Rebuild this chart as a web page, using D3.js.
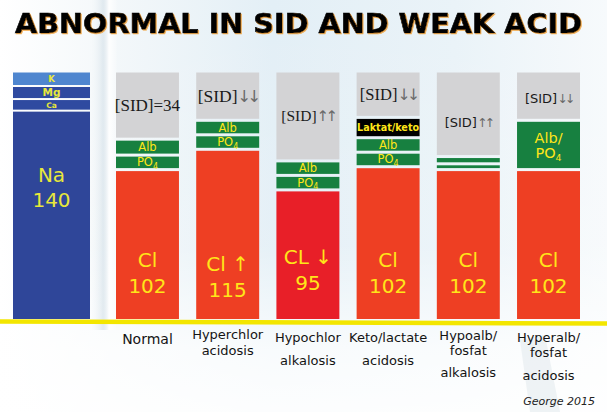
<!DOCTYPE html>
<html><head><meta charset="utf-8">
<script src="https://cdn.jsdelivr.net/npm/d3@7/dist/d3.min.js"></script>
<style>html,body{margin:0;padding:0;background:#fff;overflow:hidden} svg{display:block}</style>
</head><body>
<svg id="chart" width="607" height="412"></svg>
<script>
// ---------- DATA ----------
const title = "ABNORMAL IN SID AND WEAK ACID";
const source = "George 2015";

// cation reference column (bottom -> top)
const cationNames  = ["Na", "Ca", "Mg", "K"];
const cationValues = [143, 8, 9, 10];
const naText = ["Na", "140"];

// anion columns
const categories = ["Normal", "Hyperchlor acidosis", "Hypochlor alkalosis",
                    "Keto/lactate acidosis", "Hypoalb/fosfat alkalosis", "Hyperalb/fosfat acidosis"];
const labelLines = [["Normal"], ["Hyperchlor", "acidosis"], ["Hypochlor", "alkalosis"],
                    ["Keto/lactate", "acidosis"], ["Hypoalb/", "fosfat", "alkalosis"],
                    ["Hyperalb/", "fosfat", "acidosis"]];
const clValues      = [102, 116, 88, 104, 102, 102];
const po4Values     = [10, 10, 10, 10, 4, 0];
const albValues     = [11, 10, 10, 10, 5, 0];
const albPo4Values  = [0, 0, 0, 0, 0, 34];
const lactateValues = [0, 0, 0, 14, 0, 0];
const sidValues     = [47, 34, 62, 32, 59, 34];
const clText  = [["Cl", "102"], ["Cl \u2191", "115"], ["CL \u2193", "95"], ["Cl", "102"], ["Cl", "102"], ["Cl", "102"]];
const sidMain = ["[SID]=34", "[SID]", "[SID]", "[SID]", "[SID]", "[SID]"];
const sidArrow = ["", "\u2193\u2193", "\u2191\u2191", "\u2193\u2193", "\u2191\u2191", "\u2193\u2193"];

// ---------- STYLE / LAYOUT ----------
const W = 607, H = 412;
const C = {
  na: "#2f4699", k: "#4f86cf", cation: "#2f4aa0",
  cl: "#ee3f23", clLow: "#e81f28", green: "#178040", sid: "#d3d3d5",
  lact: "#000000", yellow: "#ffe619", catText: "#e8e83a", text: "#141414"
};
const serif = "'Liberation Serif','Times New Roman',serif";
const sans = "'DejaVu Sans',Verdana,sans-serif";
const sidFont = [
  {fam: serif, size: 17, dy: 0},
  {fam: serif, size: 17.5, dy: 0},
  {fam: serif, size: 15.5, dy: 0},
  {fam: serif, size: 16.5, dy: 0},
  {fam: sans, size: 13, dy: 9},
  {fam: sans, size: 13, dy: 3}
];
const clShift = [0, 4, -3, 0, 0, 0];
const labelBaselines = [[344], [339, 355], [342, 365], [342, 365], [340, 355, 377], [342, 357, 380]];
const labelSize = [14, 13, 13, 13, 13, 13];

const svg = d3.select("#chart");
const defs = svg.append("defs");

// background
const bg = defs.append("linearGradient").attr("id", "bgH").attr("x1", 0).attr("x2", 1).attr("y1", 0).attr("y2", 0);
[[0, "#ffffff"], [0.18, "#f4f8fa"], [0.45, "#e3eff6"], [0.75, "#eaf3f8"], [1, "#f7fafc"]]
  .forEach(([o, c]) => bg.append("stop").attr("offset", o).attr("stop-color", c));
const bgV = defs.append("linearGradient").attr("id", "bgV").attr("x1", 0).attr("x2", 0).attr("y1", 0).attr("y2", 1);
[[0, "#ffffff", 0], [0.6, "#ffffff", 0.1], [0.85, "#ffffff", 0.75], [1, "#ffffff", 0.9]]
  .forEach(([o, c, a]) => bgV.append("stop").attr("offset", o).attr("stop-color", c).attr("stop-opacity", a));
const band = defs.append("linearGradient").attr("id", "band").attr("x1", 0).attr("x2", 1).attr("y1", 0).attr("y2", 0);
[[0, "#ffffff", 0], [0.5, "#cfdde6", 0.55], [0.7, "#ffffff", 0.9], [1, "#ffffff", 0]]
  .forEach(([o, c, a]) => band.append("stop").attr("offset", o).attr("stop-color", c).attr("stop-opacity", a));

svg.append("rect").attr("width", W).attr("height", H).attr("fill", "url(#bgH)");
svg.append("rect").attr("width", W).attr("height", H).attr("fill", "url(#bgV)");
svg.append("path").attr("d", "M88,0 L118,0 L116,330 L92,330 Z").attr("fill", "url(#band)");
svg.append("path").attr("d", "M520,340 L545,335 L560,412 L530,412 Z").attr("fill", "#dfe7ec").attr("opacity", 0.5);

// title
const f = defs.append("filter").attr("id", "tshadow").attr("x", "-5%").attr("y", "-20%").attr("width", "110%").attr("height", "140%");
f.append("feDropShadow").attr("dx", 1).attr("dy", 1).attr("stdDeviation", 0.6).attr("flood-color", "#f09a2a").attr("flood-opacity", 0.8);
svg.append("text").attr("x", 15).attr("y", 33)
  .attr("font-family", sans).attr("font-weight", "bold").attr("font-size", 27)
  .attr("textLength", 567).attr("lengthAdjust", "spacingAndGlyphs")
  .attr("fill", "#050505").attr("stroke", "#050505").attr("stroke-width", 0.6)
  .attr("filter", "url(#tshadow)").text(title);

// scales
const y = d3.scaleLinear().domain([0, 170]).range([319, 72.5]);
const x = d3.scaleBand().domain(categories).range([116, 580]).paddingInner(0.215).paddingOuter(0);
const xc = d3.scaleBand().domain(["cations"]).range([13, 90]);

// ---------- cation column ----------
const GAPC = 2;
let acc = 0;
const catSegs = cationNames.map((n, i) => { const s = {name: n, y0: acc, y1: acc + cationValues[i], i}; acc += cationValues[i]; return s; });
const gC = svg.append("g");
gC.selectAll("rect").data(catSegs).join("rect")
  .attr("x", xc("cations")).attr("width", xc.bandwidth())
  .attr("y", d => y(d.y1))
  .attr("height", d => y(d.y0) - y(d.y1) - (d.i > 0 ? GAPC : 0))
  .attr("fill", d => d.name === "Na" ? C.na : d.name === "K" ? C.k : C.cation);
const catSize = {K: 8.5, Mg: 10.5, Ca: 7.5};
gC.selectAll("text.small").data(catSegs.filter(d => d.name !== "Na")).join("text")
  .attr("class", "small")
  .attr("x", xc("cations") + xc.bandwidth() / 2)
  .attr("y", d => (y(d.y1) + y(d.y0) - GAPC) / 2 + catSize[d.name] * 0.36)
  .attr("text-anchor", "middle").attr("font-family", sans)
  .attr("font-weight", "bold").attr("font-size", d => catSize[d.name]).attr("fill", C.catText)
  .text(d => d.name);
const naTop = y(catSegs[0].y1);
naText.forEach((t, j) => {
  gC.append("text").attr("x", xc("cations") + xc.bandwidth() / 2).attr("y", naTop + 70 + j * 25.5)
    .attr("text-anchor", "middle").attr("font-family", sans)
    .attr("font-size", 20).attr("fill", C.catText).text(t);
});

// ---------- anion columns ----------
const keys = ["cl", "po4", "alb", "albpo4", "lact", "sid"];
const rows = categories.map((c, i) => ({cat: c, i, cl: clValues[i], po4: po4Values[i], alb: albValues[i],
  albpo4: albPo4Values[i], lact: lactateValues[i], sid: sidValues[i]}));
const stacked = d3.stack().keys(keys)(rows);
const GAP = 3;
const segs = [];
stacked.forEach(layer => layer.forEach(d => {
  if (d[1] - d[0] > 0) segs.push({key: layer.key, i: d.data.i, cat: d.data.cat, y0: d[0], y1: d[1]});
}));
const fillOf = s => s.key === "cl" ? (s.i === 2 ? C.clLow : C.cl)
  : s.key === "sid" ? C.sid : s.key === "lact" ? C.lact : C.green;
const rectY = s => y(s.y1);
const rectH = s => y(s.y0) - y(s.y1) - (s.key !== "cl" ? GAP : 0);

const gA = svg.append("g");
gA.selectAll("rect").data(segs).join("rect")
  .attr("x", s => x(s.cat)).attr("width", x.bandwidth())
  .attr("y", rectY).attr("height", rectH).attr("fill", fillOf);

const cx = s => x(s.cat) + x.bandwidth() / 2;
const cy = s => rectY(s) + rectH(s) / 2;

// Cl labels
segs.filter(s => s.key === "cl").forEach(s => {
  clText[s.i].forEach((t, j) => {
    gA.append("text").attr("x", cx(s)).attr("y", y(0) - 52 + j * 26 + clShift[s.i])
      .attr("text-anchor", "middle").attr("font-family", sans).attr("font-size", 20)
      .attr("fill", C.yellow).text(t);
  });
});
// Alb / PO4 labels (only where tall enough)
segs.filter(s => (s.key === "alb" || s.key === "po4") && rectH(s) > 8).forEach(s => {
  const t = gA.append("text").attr("x", cx(s)).attr("y", cy(s) + 4)
    .attr("text-anchor", "middle").attr("font-family", sans).attr("font-size", 11.5).attr("fill", C.yellow);
  if (s.key === "alb") t.text("Alb");
  else { t.append("tspan").text("PO"); t.append("tspan").attr("font-size", 8).attr("dy", 2.5).text("4"); }
});
// Alb/PO4 combined block
segs.filter(s => s.key === "albpo4").forEach(s => {
  gA.append("text").attr("x", cx(s)).attr("y", cy(s) - 2).attr("text-anchor", "middle")
    .attr("font-family", sans).attr("font-size", 14.5).attr("fill", C.yellow).text("Alb/");
  const t = gA.append("text").attr("x", cx(s)).attr("y", cy(s) + 13.5).attr("text-anchor", "middle")
    .attr("font-family", sans).attr("font-size", 14.5).attr("fill", C.yellow);
  t.append("tspan").text("PO"); t.append("tspan").attr("font-size", 9.5).attr("dy", 3).text("4");
});
// Lactate block
segs.filter(s => s.key === "lact").forEach(s => {
  gA.append("text").attr("x", cx(s)).attr("y", cy(s) + 3.8).attr("text-anchor", "middle")
    .attr("font-family", sans).attr("font-weight", "bold").attr("font-size", 10.5)
    .attr("textLength", x.bandwidth() - 1).attr("lengthAdjust", "spacingAndGlyphs")
    .attr("fill", C.yellow).text("Laktat/keto");
});
// SID labels
segs.filter(s => s.key === "sid").forEach(s => {
  const ff = sidFont[s.i];
  const t = gA.append("text").attr("x", cx(s)).attr("y", cy(s) + ff.size * 0.35 + ff.dy)
    .attr("text-anchor", "middle").attr("font-family", ff.fam).attr("font-size", ff.size).attr("fill", "#1a1a1a");
  t.append("tspan").text(sidMain[s.i]);
  if (sidArrow[s.i]) t.append("tspan").attr("fill", "#6a6a6a").attr("font-family", sans)
    .attr("font-size", ff.size * 0.95).attr("letter-spacing", -ff.size * 0.22).text(sidArrow[s.i]);
});

// baseline yellow line
svg.append("path").attr("d", `M0,${y(0) + 2.5} L${W},${y(0) + 4.5}`)
  .attr("stroke", "#f3e600").attr("stroke-width", 4.5).attr("fill", "none");

// category labels
categories.forEach((c, i) => {
  labelLines[i].forEach((ln, j) => {
    svg.append("text").attr("x", x(c) + x.bandwidth() / 2).attr("y", labelBaselines[i][j])
      .attr("text-anchor", "middle").attr("font-family", sans).attr("font-size", labelSize[i])
      .attr("fill", C.text).text(ln);
  });
});

// source
svg.append("text").attr("x", 595).attr("y", 405).attr("text-anchor", "end")
  .attr("font-family", sans).attr("font-style", "italic").attr("font-size", 11)
  .attr("fill", "#222").text(source);
</script>
</body></html>
